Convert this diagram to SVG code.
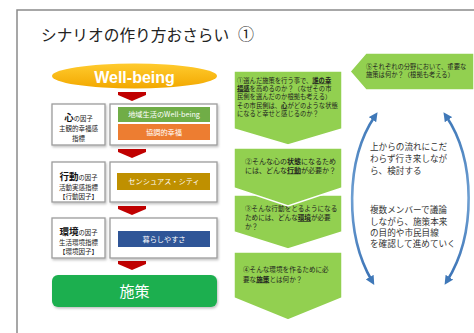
<svg xmlns="http://www.w3.org/2000/svg" width="474" height="333" viewBox="0 0 474 333">
<defs>
<style>
.jp{font-family:"Noto Sans CJK JP","Noto Sans CJK SC",sans-serif}
.frame{fill:none;stroke:#8a8a8a;stroke-width:1.5}
.fbox{fill:#fff;stroke:#9c9c9c;stroke-width:1.3}
.arr{fill:#C00000}
.step{fill:#92D050;stroke:#fff;stroke-width:1.5}
.st{fill:#1e1e1e}
.b{font-weight:bold;text-decoration:underline}
.lt{font-size:6.5px;fill:#222;text-anchor:middle}
.bt{font-size:7.2px;fill:#fff;text-anchor:middle}
.rt{font-size:8.6px;fill:#333}
.curve{fill:none;stroke:url(#blu);stroke-width:2.6}
</style>
<linearGradient id="gold" x1="0" y1="0" x2="0" y2="1">
<stop offset="0" stop-color="#FFCB2E"/><stop offset="1" stop-color="#F2A800"/>
</linearGradient>
<linearGradient id="blu" x1="0" y1="0" x2="0" y2="1">
<stop offset="0" stop-color="#3F78B8"/><stop offset="0.5" stop-color="#6E9FD2"/><stop offset="1" stop-color="#3A72B5"/>
</linearGradient>
<filter id="sh" x="-10%" y="-10%" width="130%" height="140%">
<feDropShadow dx="1" dy="1.5" stdDeviation="1.2" flood-color="#000" flood-opacity="0.25"/>
</filter>
<marker id="ah" viewBox="0 0 10 10" refX="5" refY="5" markerUnits="userSpaceOnUse" markerWidth="9" markerHeight="9" orient="auto-start-reverse">
<path d="M0,0 L10,5 L0,10 z" fill="#3F78B8"/>
</marker>
</defs>

<rect width="474" height="333" fill="#fff"/>
<path class="frame" d="M17,333 L17,10 L474,10"/>

<text class="jp" x="41" y="41" font-size="15.7" fill="#222">シナリオの作り方おさらい</text>
<text class="jp" x="238" y="40" font-size="16" fill="#222">①</text>

<g id="wellbeing">
<ellipse cx="134.5" cy="76" rx="82.5" ry="12.5" fill="url(#gold)"/>
<text x="134.5" y="83" font-family="Liberation Sans, Arial, sans-serif" font-weight="bold" font-size="16" fill="#fff" text-anchor="middle">Well-being</text>
</g>

<g id="connectors">
<polygon class="arr" points="118,92 146,92 146,95 132,101 118,95"/>
<polygon class="arr" points="118,149 146,149 146,152 132,158 118,152"/>
<polygon class="arr" points="118,206 146,206 146,209 132,215 118,209"/>
<polygon class="arr" points="118,261 146,261 146,264 132,270 118,264"/>
<path class="curve" d="M375,116 C345,160 345,235 372,281" marker-start="url(#ah)" marker-end="url(#ah)"/>
<path class="curve" d="M446,116 C476,160 476,235 447,281" marker-start="url(#ah)" marker-end="url(#ah)"/>
</g>

<g id="row-kokoro" class="jp">
<rect class="fbox" x="52" y="104" width="53" height="41" filter="url(#sh)"/>
<rect class="fbox" x="110" y="104" width="107" height="41" filter="url(#sh)"/>
<text class="lt" x="78.5" y="121.3"><tspan font-size="9.5" font-weight="bold" fill="#111">心</tspan><tspan font-size="6.3">の因子</tspan></text>
<text class="lt" x="78.5" y="131.2">主観的幸福感</text>
<text class="lt" x="78.5" y="140.6">指標</text>
<rect x="118" y="107" width="92" height="15" fill="#70AD47"/>
<text class="bt" x="164" y="117">地域生活のWell-being</text>
<rect x="118" y="124" width="92" height="16" fill="#ED7D31"/>
<text class="bt" x="164" y="134.7">協調的幸福</text>
</g>

<g id="row-koudou" class="jp">
<rect class="fbox" x="52" y="162" width="53" height="40" filter="url(#sh)"/>
<rect class="fbox" x="110" y="162" width="107" height="40" filter="url(#sh)"/>
<text class="lt" x="78.5" y="180"><tspan font-size="9.5" font-weight="bold" fill="#111">行動</tspan><tspan font-size="6.3">の因子</tspan></text>
<text class="lt" x="78.5" y="189.5">活動実感指標</text>
<text class="lt" x="78.5" y="199">【行動因子】</text>
<rect x="117" y="173" width="93" height="17" fill="#BF9000"/>
<text class="bt" x="164" y="184.2">センシュアス・シティ</text>
</g>

<g id="row-kankyou" class="jp">
<rect class="fbox" x="52" y="218" width="53" height="40" filter="url(#sh)"/>
<rect class="fbox" x="110" y="218" width="107" height="40" filter="url(#sh)"/>
<text class="lt" x="78.5" y="235"><tspan font-size="9.5" font-weight="bold" fill="#111">環境</tspan><tspan font-size="6.3">の因子</tspan></text>
<text class="lt" x="78.5" y="244.5">生活環境指標</text>
<text class="lt" x="78.5" y="254">【環境因子】</text>
<rect x="118" y="231" width="92" height="16" fill="#2F5597"/>
<text class="bt" x="164" y="241.7">暮らしやすさ</text>
</g>

<g id="shisaku" class="jp">
<rect x="52" y="275" width="165" height="32" rx="6" fill="#1FAF50" filter="url(#sh)"/>
<text x="134.5" y="296.7" font-size="15" fill="#fff" text-anchor="middle">施策</text>
</g>

<g id="step4" class="jp">
<polygon class="step" points="234,252 342,252 342,298 288,320 234,298"/>
<text class="st" x="243" y="272" font-size="6.6">④そんな環境を作るために必</text>
<text class="st" x="243" y="281.5" font-size="6.6">要な<tspan class="b">施策</tspan>とは何か？</text>
</g>

<g id="step3" class="jp">
<polygon class="step" points="234,195 342,195 342,232 288,249 234,232"/>
<text class="st" x="245" y="211" font-size="6.6">③そんな行動をとるようになる</text>
<text class="st" x="245" y="220" font-size="6.6">ためには、どんな<tspan class="b">環境</tspan>が必要</text>
<text class="st" x="245" y="229" font-size="6.6">か？</text>
</g>

<g id="step2" class="jp">
<polygon class="step" points="234,148 342,148 342,188 288,206 234,188"/>
<text class="st" x="245" y="163.5" font-size="7">②そんな心の<tspan font-weight="bold">状態</tspan>になるため</text>
<text class="st" x="245" y="172.5" font-size="7">には、どんな<tspan class="b">行動</tspan>が必要か？</text>
</g>

<g id="step1" class="jp">
<polygon class="step" points="234,71 342,71 342,129 288,145 234,129"/>
<text class="st" x="237" y="82.5" font-size="6.3">①選んだ施策を行う事で、<tspan class="b">誰の幸</tspan></text>
<text class="st" x="237" y="90.5" font-size="6.3"><tspan class="b">福感</tspan>を高めるのか？（なぜその市</text>
<text class="st" x="237" y="98.5" font-size="6.3">民側を選んだのか根拠も考える）</text>
<text class="st" x="237" y="107.5" font-size="6.3">その市民側は、<tspan class="b">心</tspan>がどのような状態</text>
<text class="st" x="237" y="115.5" font-size="6.3">になると幸せと感じるのか？</text>
</g>

<g id="step5" class="jp">
<polygon class="step" points="350,71.5 366,53 474,53 474,90 366,90"/>
<text class="st" x="366" y="68.8" font-size="6.3">⑤それぞれの分野において、重要な</text>
<text class="st" x="366" y="77" font-size="6.3">施策は何か？（根拠も考える）</text>
</g>

<g id="note" class="jp">
<text class="rt" x="370" y="150.3">上からの流れにこだ</text>
<text class="rt" x="370" y="162.3">わらず行き来しなが</text>
<text class="rt" x="370" y="173.8">ら、検討する</text>
<text class="rt" x="370" y="213.3">複数メンバーで議論</text>
<text class="rt" x="370" y="224.6">しながら、施策本来</text>
<text class="rt" x="370" y="235.9">の目的や市民目線</text>
<text class="rt" x="370" y="247.2">を確認して進めていく</text>
</g>
</svg>
